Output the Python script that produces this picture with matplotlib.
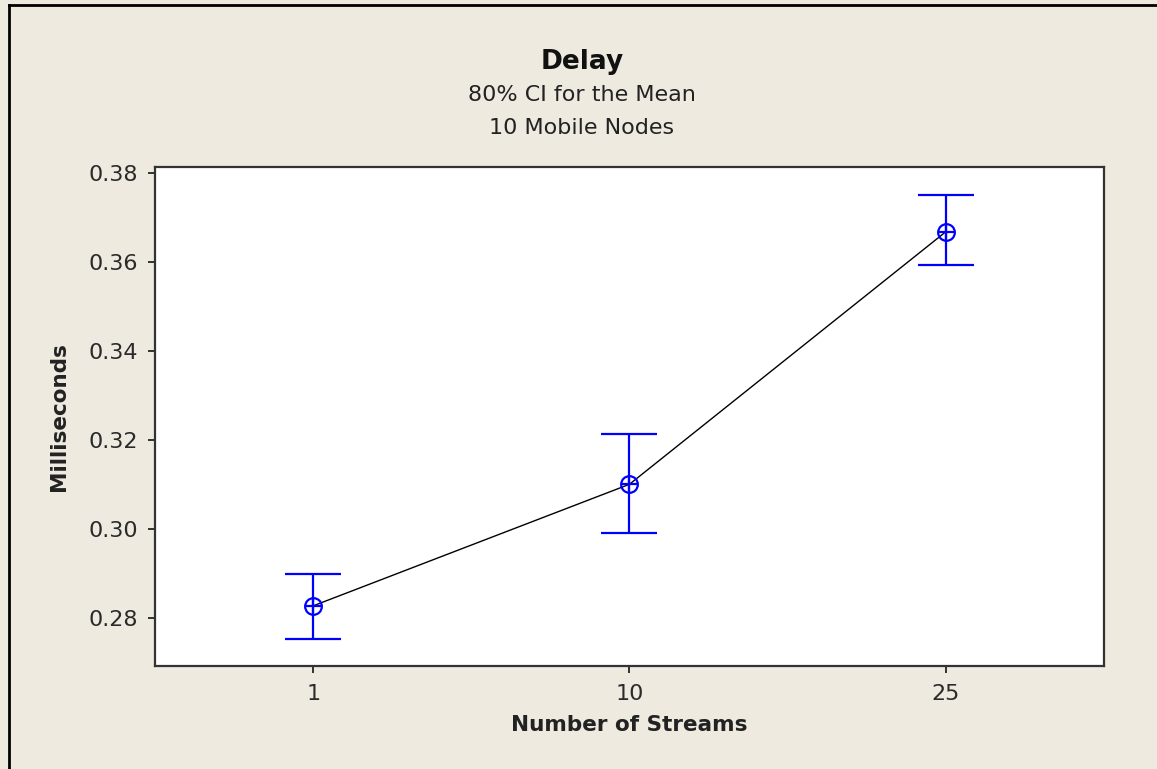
#! /usr/bin/env python
'''
    Interval plot of delay vs number of streams (80% CI for the mean)
'''

import numpy as np
import matplotlib.pyplot as plt
from matplotlib.lines import Line2D

streams = ['1', '10', '25']
delay_mean = [0.2827, 0.3100, 0.3667]
ci_lower = [0.2752, 0.2990, 0.3592]
ci_upper = [0.2898, 0.3213, 0.3749]

y_ticks = [0.28, 0.30, 0.32, 0.34, 0.36, 0.38]

BG = '#eeeae0'
BLUE = '#0000ff'


def delay_plot(outfile='out.png'):
    '''
        Draw means with confidence interval bars, joined by a line.
    '''
    fig = plt.figure(figsize=(11.57, 7.69), dpi=100, facecolor=BG)
    ax = fig.add_axes([0.134, 0.134, 0.820, 0.649])
    ax.set_facecolor('white')

    x = np.arange(len(streams))
    mean = np.array(delay_mean)
    err = [mean - np.array(ci_lower), np.array(ci_upper) - mean]

    ax.plot(x, mean, color='black', lw=1.0, zorder=2)
    ax.errorbar(x, mean, yerr=err, fmt='none', ecolor=BLUE, elinewidth=1.6,
                capsize=20, capthick=1.6, zorder=3)
    ax.plot(x, mean, 'o', ms=12, mfc='none', mec=BLUE, mew=1.6, zorder=4)
    ax.plot(x, mean, '+', ms=12, mec=BLUE, mew=1.6, zorder=4)

    ax.set_xlim(-0.5, 2.5)
    ax.set_ylim(0.2692, 0.3813)
    ax.set_xticks(x)
    ax.set_xticklabels(streams)
    ax.set_yticks(y_ticks)
    ax.set_yticklabels(['%.2f' % v for v in y_ticks])

    for side in ax.spines.values():
        side.set_color('#333333')
        side.set_linewidth(1.6)
    ax.tick_params(direction='out', length=5, width=1.4, color='#333333',
                   labelsize=16, labelcolor='#2a2a2a')
    ax.tick_params(axis='y', pad=7)
    ax.tick_params(axis='x', pad=8)

    ax.set_xlabel('Number of Streams', fontsize=15.5, fontweight='bold',
                  labelpad=8, color='#222222')
    ax.set_ylabel('Milliseconds', fontsize=15.5, fontweight='bold',
                  labelpad=14, color='#222222')

    fig.text(0.503, 0.920, 'Delay', ha='center', va='center',
             fontsize=19, fontweight='bold', color='#111111')
    fig.text(0.503, 0.876, '80% CI for the Mean', ha='center', va='center',
             fontsize=16, color='#222222')
    fig.text(0.503, 0.834, '10 Mobile Nodes', ha='center', va='center',
             fontsize=16, color='#222222')

    # window frame on left and top edge
    fig.add_artist(Line2D([0.0075, 0.0075], [0.0, 0.993], color='black',
                          lw=2, transform=fig.transFigure))
    fig.add_artist(Line2D([0.0075, 1.0], [0.993, 0.993], color='black',
                          lw=2, transform=fig.transFigure))

    fig.savefig(outfile, dpi=100, facecolor=BG)
    plt.close(fig)


if __name__ == '__main__':
    delay_plot()
